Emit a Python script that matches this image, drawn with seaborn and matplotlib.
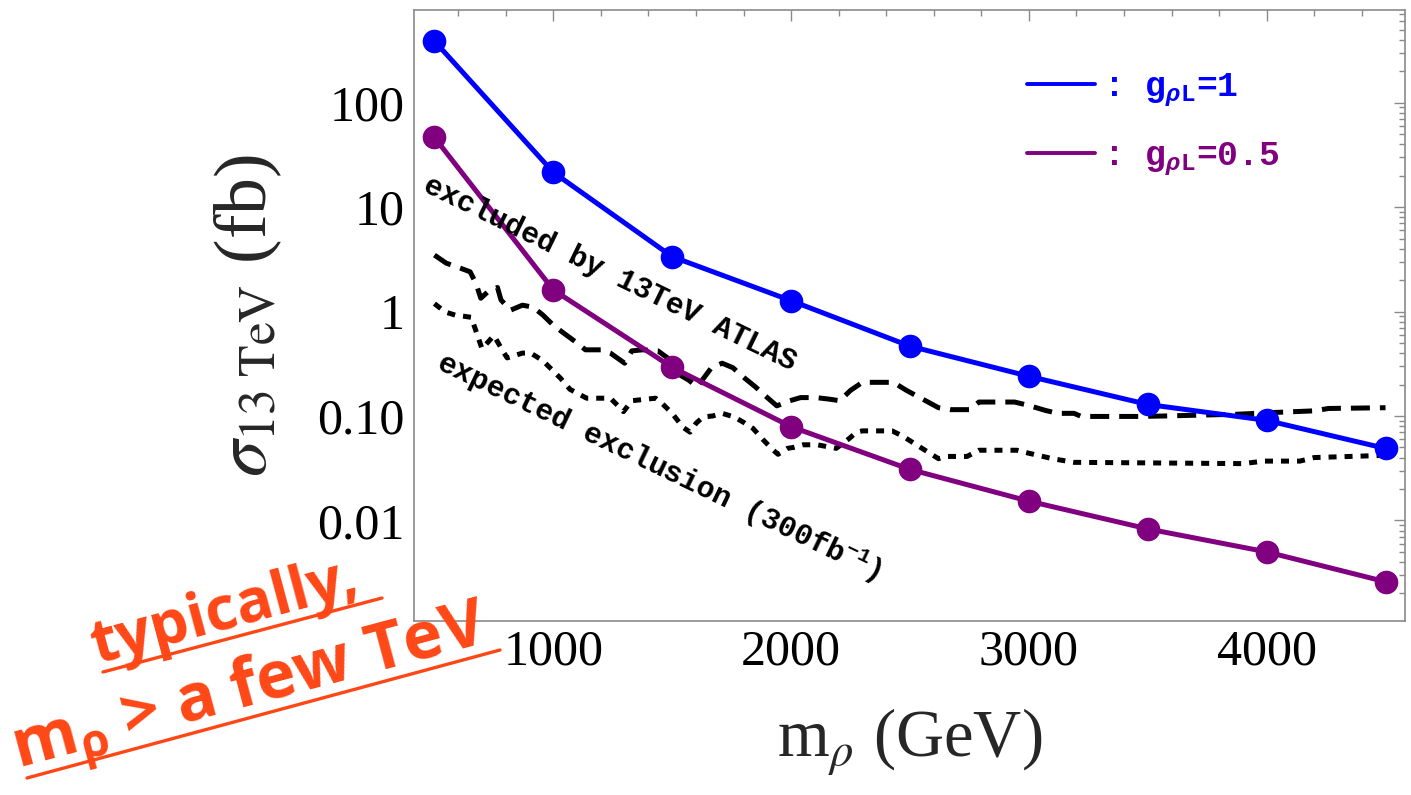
import numpy as np
import pandas as pd
import matplotlib
matplotlib.use("Agg")
import matplotlib.pyplot as plt
import seaborn as sns
from matplotlib.lines import Line2D
from matplotlib.ticker import FixedLocator, FixedFormatter, MultipleLocator, LogLocator, NullFormatter

# ---------------- data ----------------
mass = [500, 1000, 1500, 2000, 2500, 3000, 3500, 4000, 4500]
sigma_g1 = [388, 21.5, 3.35, 1.27, 0.466, 0.24, 0.129, 0.0908, 0.0489]
sigma_g05 = [46.4, 1.61, 0.292, 0.079, 0.0308, 0.0153, 0.0083, 0.0050, 0.00259]

obs_mass = [500, 550, 590, 650, 675, 695, 725, 765, 780, 820, 870, 915, 955, 1000, 1040,
            1100, 1135, 1200, 1240, 1300, 1330, 1375, 1440, 1495, 1535, 1570, 1605, 1665,
            1710, 1755, 1805, 1850, 1900, 1940, 1995, 2040, 2105, 2160, 2205, 2250, 2300,
            2345, 2430, 2485, 2620, 2670, 2750, 2790, 2940, 3000, 3070, 3120, 3190, 3220,
            3460, 3570, 3880, 4030, 4200, 4260, 4500]
obs_sigma = [3.47, 2.9, 2.7, 2.4, 1.85, 1.34, 1.55, 1.7, 1.29, 1.03, 1.15, 1.1, 0.93, 0.74, 0.63,
             0.5, 0.43, 0.43, 0.4, 0.32, 0.42, 0.43, 0.42, 0.34, 0.245, 0.22, 0.19, 0.29,
             0.32, 0.29, 0.23, 0.19, 0.15, 0.125, 0.14, 0.15, 0.15, 0.145, 0.14, 0.176, 0.21,
             0.21, 0.21, 0.176, 0.12, 0.115, 0.115, 0.136, 0.136, 0.126, 0.113, 0.106, 0.106, 0.099,
             0.099, 0.10, 0.104, 0.108, 0.112, 0.118, 0.12]

exp_mass = [500, 545, 590, 625, 655, 700, 750, 790, 806, 870, 905, 955, 1030, 1070, 1140,
            1240, 1280, 1295, 1330, 1430, 1460, 1500, 1545, 1575, 1600, 1630, 1670, 1710,
            1760, 1800, 1840, 1880, 1925, 1945, 1985, 2010, 2050, 2110, 2190, 2245, 2275,
            2300, 2425, 2470, 2620, 2650, 2740, 2790, 2950, 3000, 3100, 3190, 3900, 3990,
            4140, 4200, 4500]
exp_sigma = [1.19, 0.99, 0.92, 0.9, 0.88, 0.44, 0.59, 0.41, 0.36, 0.4, 0.4, 0.34, 0.23, 0.18, 0.148,
             0.148, 0.12, 0.11, 0.14, 0.148, 0.13, 0.106, 0.078, 0.07, 0.085, 0.098, 0.1, 0.106,
             0.098, 0.087, 0.076, 0.06, 0.047, 0.043, 0.049, 0.05, 0.053, 0.053, 0.049, 0.061, 0.07,
             0.072, 0.072, 0.064, 0.039, 0.041, 0.041, 0.047, 0.047, 0.044, 0.039, 0.036, 0.035, 0.037,
             0.037, 0.04, 0.042]

x_ticks = [1000, 2000, 3000, 4000]
x_tick_labels = ["1000", "2000", "3000", "4000"]
y_ticks = [0.01, 0.1, 1, 10, 100]
y_tick_labels = ["0.01", "0.10", "1", "10", "100"]

legend_labels = [r": g$_{\rho\mathregular{L}}$=1", r": g$_{\rho\mathregular{L}}$=0.5"]

# ---------------- style ----------------
sns.set_style("white")
plt.rcParams.update({
    "font.family": ["Liberation Serif", "DejaVu Serif"],
    "mathtext.fontset": "custom",
    "mathtext.rm": "Liberation Mono:bold",
    "mathtext.it": "Liberation Mono:italic:bold",
    "mathtext.bf": "Liberation Mono:bold",
})

BLUE = "#0000ff"
PURPLE = "#800080"
ORANGE = "#ff4716"
GRAY = "#8a8a8a"

W, H = 1411, 795
fig = plt.figure(figsize=(W / 100, H / 100), dpi=100)
ax = fig.add_axes([414 / W, 1 - 621 / H, (1405 - 414) / W, (621 - 10) / H])

df_sig = pd.DataFrame({"m": mass, "g1": sigma_g1, "g05": sigma_g05})
df_obs = pd.DataFrame({"m": obs_mass, "s": obs_sigma})
df_exp = pd.DataFrame({"m": exp_mass, "s": exp_sigma})

sns.lineplot(data=df_obs, x="m", y="s", ax=ax, color="black", linewidth=3.6,
             sort=False, errorbar=None, legend=False, zorder=3)
ax.lines[-1].set_dashes([3.8, 2.0])
sns.lineplot(data=df_exp, x="m", y="s", ax=ax, color="black", linewidth=3.6,
             sort=False, errorbar=None, legend=False, zorder=3)
ax.lines[-1].set_dashes([1.6, 1.6])

sns.lineplot(data=df_sig, x="m", y="g05", ax=ax, color=PURPLE, linewidth=3.6, marker="o",
             markersize=17, markeredgewidth=0, sort=False, errorbar=None, legend=False, zorder=4)
sns.lineplot(data=df_sig, x="m", y="g1", ax=ax, color=BLUE, linewidth=3.6, marker="o",
             markersize=17, markeredgewidth=0, sort=False, errorbar=None, legend=False, zorder=5)

# ---------------- axes ----------------
ax.set_yscale("log")
ax.set_xlim(414, 4582)
ax.set_ylim(0.00109, 770)
ax.xaxis.set_major_locator(FixedLocator(x_ticks))
ax.xaxis.set_major_formatter(FixedFormatter(x_tick_labels))
ax.xaxis.set_minor_locator(MultipleLocator(200))
ax.yaxis.set_major_locator(FixedLocator(y_ticks))
ax.yaxis.set_major_formatter(FixedFormatter(y_tick_labels))
ax.yaxis.set_minor_locator(LogLocator(base=10, subs=np.arange(2, 10), numticks=30))
ax.yaxis.set_minor_formatter(NullFormatter())

ax.tick_params(which="both", direction="in", top=True, right=True, color=GRAY, width=1.0,
               labelsize=36, labelcolor="black")
ax.tick_params(which="major", length=8)
ax.tick_params(which="minor", length=4.5)
ax.tick_params(axis="x", which="major", pad=6)
ax.tick_params(axis="y", which="major", pad=7)
for lab in ax.get_xticklabels() + ax.get_yticklabels():
    lab.set_family("Liberation Serif")

for sp in ax.spines.values():
    sp.set_color(GRAY)
    sp.set_linewidth(1.2)

ax.set_xlabel(r"m$_{\rho}$ (GeV)", fontsize=48, family="Liberation Serif",
              math_fontfamily="stix", labelpad=22)
ax.set_ylabel(r"$\sigma_{\mathrm{13\ TeV}}$ (fb)", fontsize=53, family="Liberation Serif",
              math_fontfamily="stix", labelpad=24)

# ---------------- legend ----------------
handles = [Line2D([], [], color=BLUE, lw=2.8), Line2D([], [], color=PURPLE, lw=2.8)]
leg = ax.legend(handles, legend_labels, loc="center left", bbox_to_anchor=(0.6186, 0.8134),
                frameon=False, prop={"family": "Liberation Mono", "weight": "bold", "size": 25},
                handlelength=1.96, handletextpad=0.23, labelspacing=0.86, borderpad=0,
                borderaxespad=0, labelcolor="linecolor")

# ---------------- annotations ----------------
ax.text(460, 16.9, "excluded by 13TeV ATLAS", rotation=-26, rotation_mode="anchor",
        ha="left", va="center", family="Liberation Mono", weight="bold", fontsize=21.5,
        color="black", zorder=6)
ax.text(519, 0.339, r"expected exclusion (300fb$^{\mathregular{-1}}$)", rotation=-25.7,
        rotation_mode="anchor", ha="left", va="center", family="Liberation Mono",
        weight="bold", fontsize=21.5, color="black", zorder=6)

fig.text(97 / W, 1 - 664 / H, "typically,", rotation=15, rotation_mode="anchor",
         ha="left", va="baseline", family="Open Sans", weight="bold", fontsize=44,
         color=ORANGE, zorder=10)
fig.text(18 / W, 1 - 768 / H, r"m$_{\mathregular{ρ}}$ > a few TeV", rotation=15,
         rotation_mode="anchor", ha="left", va="baseline", family="Open Sans",
         weight="bold", fontsize=48, color=ORANGE, zorder=10)
fig.add_artist(Line2D([103 / W, 382 / W], [1 - 672 / H, 1 - 598 / H], color=ORANGE,
                      lw=2.4, zorder=10))
fig.add_artist(Line2D([27 / W, 500 / W], [1 - 778 / H, 1 - 650 / H], color=ORANGE,
                      lw=2.4, zorder=10))

fig.savefig("out.png", dpi=100)
